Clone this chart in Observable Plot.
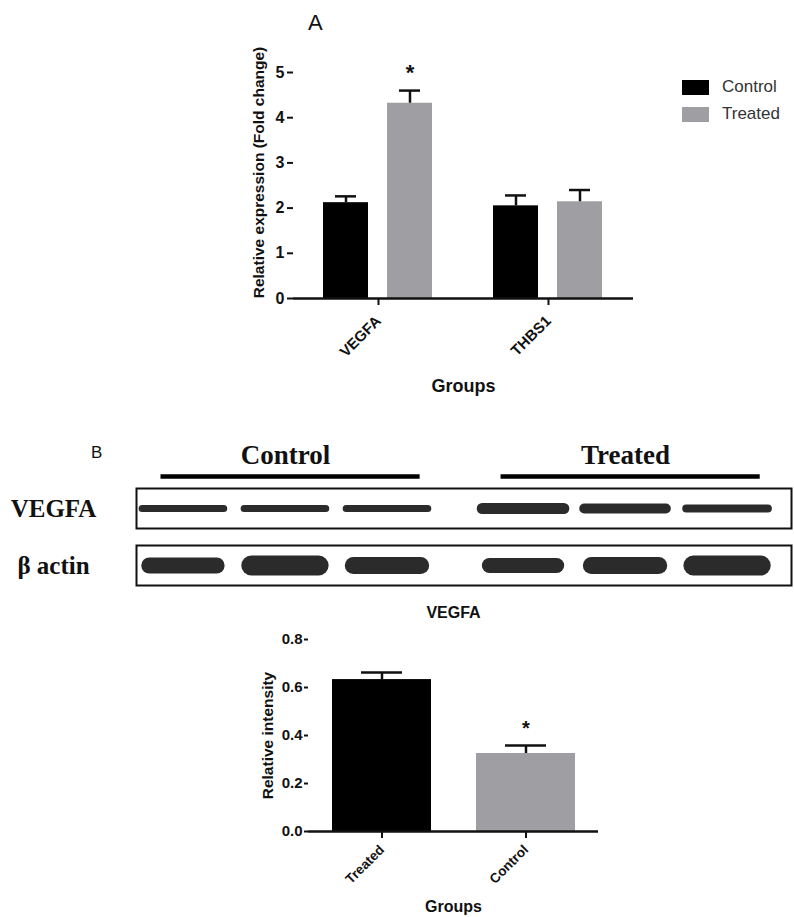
<!DOCTYPE html>
<html><head><meta charset="utf-8">
<script src="https://cdn.jsdelivr.net/npm/d3@7"></script>
<script src="https://cdn.jsdelivr.net/npm/@observablehq/plot@0.6"></script>
<style>
body{margin:0;background:#fff;}
#fig{position:relative;width:794px;height:917px;background:#fff;overflow:hidden;font-family:'Liberation Sans',Arial,sans-serif;color:#111;}
#fig svg{position:absolute;left:0;}
.lbl{position:absolute;white-space:nowrap;line-height:1;}
.sw{position:absolute;width:27px;height:15px;}
</style></head><body><div id="fig"></div>
<script>
// ---- Panel A data ----
const genes = ["VEGFA", "THBS1"];
const conditions = ["Control", "Treated"];
const controlMean = [2.12, 2.05];
const controlSem = [0.14, 0.23];
const treatedMean = [4.32, 2.14];
const treatedSem = [0.28, 0.26];
const sigA = [{gene: "VEGFA", condition: "Treated", label: "*"}];
const yTicksA = [0, 1, 2, 3, 4, 5];

// ---- Western blot data (relative band density, arbitrary units) ----
const blotRows = ["VEGFA", "β actin"];
const blotGroups = ["Control", "Treated"];
const blotLanes = ["Control", "Control", "Control", "Treated", "Treated", "Treated"];
const vegfaBand = [0.7, 0.7, 0.7, 1.1, 1.0, 0.8];
const actinBand = [1.6, 2.0, 1.7, 1.5, 1.7, 2.0];

// ---- Panel B quantification data ----
const intensityGroups = ["Treated", "Control"];
const intensityMean = [0.633, 0.325];
const intensitySem = [0.029, 0.033];
const sigB = [{group: "Control", label: "*"}];
const yTicksB = [0, 0.2, 0.4, 0.6, 0.8];

const fig = document.getElementById("fig");
const baseStyle = {fontFamily: "'Liberation Sans', Arial, sans-serif", fontWeight: "bold", color: "#111", background: "transparent", overflow: "visible"};
const topOf = d => d.mean + d.sem;

// ---------- Panel A ----------
const dataA = genes.flatMap((g, i) => [
  {gene: g, condition: "Control", mean: controlMean[i], sem: controlSem[i]},
  {gene: g, condition: "Treated", mean: treatedMean[i], sem: treatedSem[i]}
]);
const sigRowsA = sigA.map(s => ({...s, top: topOf(dataA.find(d => d.gene === s.gene && d.condition === s.condition))}));
const labelRowA = [{gene: genes[0], y: "Relative expression (Fold change)", x: "Groups"}];

const chartA = Plot.plot({
  width: 794, height: 410,
  marginTop: 72, marginBottom: 112, marginLeft: 292, marginRight: 161,
  style: baseStyle,
  fx: {domain: genes, padding: 0},
  x: {domain: conditions, paddingInner: 0.29, paddingOuter: 0.46, axis: null},
  y: {domain: [0, 5]},
  color: {domain: conditions, range: ["#000000", "#9f9fa3"]},
  marks: [
    Plot.barY(dataA, {fx: "gene", x: "condition", y: "mean", fill: "condition"}),
    Plot.ruleX(dataA, {fx: "gene", x: "condition", y1: "mean", y2: topOf, stroke: "#111", strokeWidth: 2.5}),
    Plot.tickY(dataA, {fx: "gene", x: "condition", y: topOf, stroke: "#111", strokeWidth: 2.5, insetLeft: 12, insetRight: 12}),
    Plot.text(sigRowsA, {fx: "gene", x: "condition", y: "top", text: "label", dy: -18, fontSize: 22, fontWeight: "bold"}),
    Plot.ruleY([0], {stroke: "#111", strokeWidth: 2.5}),
    Plot.axisY({ticks: yTicksA, tickFormat: "d", tickSize: 6, tickPadding: 3, fontSize: 16, strokeWidth: 2, label: null, line: true}),
    Plot.axisFx({anchor: "bottom", tickSize: 7, tickPadding: 13, tickRotate: -45, fontSize: 15, strokeWidth: 2, label: null}),
    Plot.text(labelRowA, {fx: "gene", text: "y", frameAnchor: "left", textAnchor: "middle", rotate: -90, dx: -34, dy: -13, fontSize: 15.5, fontWeight: "bold"}),
    Plot.text(labelRowA, {fx: "gene", text: "x", frameAnchor: "bottom-right", textAnchor: "middle", dy: 93, fontSize: 18, fontWeight: "bold"})
  ]
});
chartA.style.top = "0px";
fig.appendChild(chartA);

// ---------- Western blot ----------
const groupGap = 1 / 3;
const lanePos = i => i + (blotLanes[i] === "Treated" ? groupGap : 0);
const bandHalf = {"VEGFA": 0.40, "β actin": 0.33};
const bands = blotRows.flatMap((row, r) => (r === 0 ? vegfaBand : actinBand).map((v, i) => ({row, lane: i, group: blotLanes[i], pos: lanePos(i), intensity: v})));
const headers = blotGroups.map(g => {
  const idx = blotLanes.map((l, i) => l === g ? i : -1).filter(i => i >= 0);
  return {group: g, row: blotRows[0], from: lanePos(idx[0]), to: lanePos(idx[idx.length - 1])};
});

const blot = Plot.plot({
  width: 794, height: 160,
  marginTop: 57, marginBottom: 4, marginLeft: 136, marginRight: 3,
  style: baseStyle,
  fy: {domain: blotRows, paddingInner: 0.293, paddingOuter: 0},
  x: {domain: [-0.46, 5.96], axis: null},
  y: {domain: [0, 1], axis: null},
  marks: [
    Plot.frame({stroke: "#111", strokeWidth: 2}),
    Plot.ruleY(bands, {fy: "row", x1: d => d.pos - bandHalf[d.row], x2: d => d.pos + bandHalf[d.row], y: () => 0.5, strokeWidth: d => d.intensity * 10, strokeLinecap: "round", stroke: "#2b2b2b", ariaLabel: "bands"}),
    Plot.ruleY(headers, {fy: "row", x1: d => d.from - 0.22, x2: d => d.to + 0.32, y: () => 1, dy: -12, strokeWidth: 4.5, stroke: "#000"}),
    Plot.text(headers, {fy: "row", x: d => (d.from + d.to) / 2, y: () => 1, dy: -33, text: "group", fontSize: 27, fontFamily: "'Liberation Serif', 'Times New Roman', serif", fontWeight: "bold", fill: "#111"}),
    Plot.axisFy({anchor: "left", tickSize: 0, tickPadding: 83, textAnchor: "middle", fontSize: 25, fontFamily: "'Liberation Serif', 'Times New Roman', serif", fontWeight: "bold", label: null})
  ]
});
blot.style.top = "430px";
fig.appendChild(blot);
blot.querySelectorAll('[aria-label="bands"]').forEach(g => g.style.filter = "blur(1.1px)");

// ---------- Panel B quantification ----------
const dataB = intensityGroups.map((g, i) => ({group: g, mean: intensityMean[i], sem: intensitySem[i]}));
const sigRowsB = sigB.map(s => ({...s, top: topOf(dataB.find(d => d.group === s.group))}));

const chartB = Plot.plot({
  width: 794, height: 327,
  marginTop: 49, marginBottom: 86, marginLeft: 308, marginRight: 196,
  style: baseStyle,
  x: {domain: intensityGroups, paddingInner: 0.3125, paddingOuter: 0.163},
  y: {domain: [0, 0.8]},
  color: {domain: intensityGroups, range: ["#000000", "#9f9fa3"]},
  marks: [
    Plot.barY(dataB, {x: "group", y: "mean", fill: "group"}),
    Plot.ruleX(dataB, {x: "group", y1: "mean", y2: topOf, stroke: "#111", strokeWidth: 2.5}),
    Plot.tickY(dataB, {x: "group", y: topOf, stroke: "#111", strokeWidth: 2.5, insetLeft: 29, insetRight: 29}),
    Plot.text(sigRowsB, {x: "group", y: "top", text: "label", dy: -17, fontSize: 20, fontWeight: "bold"}),
    Plot.text(["VEGFA"], {frameAnchor: "top", text: d => d, dy: -33, fontSize: 16, fontWeight: "bold"}),
    Plot.ruleY([0], {stroke: "#111", strokeWidth: 2.5}),
    Plot.axisY({ticks: yTicksB, tickFormat: ".1f", tickSize: 4, tickPadding: 2, fontSize: 15, strokeWidth: 2, label: null, line: true}),
    Plot.axisX({tickSize: 7, tickPadding: 9, tickRotate: -45, fontSize: 13.5, strokeWidth: 2, label: null}),
    Plot.text(["Relative intensity"], {text: d => d, frameAnchor: "left", textAnchor: "middle", rotate: -90, dx: -40, fontSize: 15.5, fontWeight: "bold"}),
    Plot.text(["Groups"], {text: d => d, frameAnchor: "bottom", dy: 80, fontSize: 16, fontWeight: "bold"})
  ]
});
chartB.style.top = "590px";
fig.appendChild(chartB);

// ---------- Panel letters and legend ----------
function addLabel(text, x, y, css) {
  const el = document.createElement("div");
  el.className = "lbl";
  el.textContent = text;
  el.style.left = x + "px";
  el.style.top = y + "px";
  Object.assign(el.style, css || {});
  fig.appendChild(el);
  return el;
}
addLabel("A", 308, 12, {fontSize: "22px"});
addLabel("B", 91, 444, {fontSize: "17px"});
const legendColors = ["#000000", "#9f9fa3"];
conditions.forEach((c, i) => {
  const sw = document.createElement("div");
  sw.className = "sw";
  sw.style.left = "682px";
  sw.style.top = (80 + i * 27) + "px";
  sw.style.background = legendColors[i];
  fig.appendChild(sw);
  addLabel(c, 722, 78 + i * 27, {fontSize: "17px", color: "#333"});
});
</script></body></html>
